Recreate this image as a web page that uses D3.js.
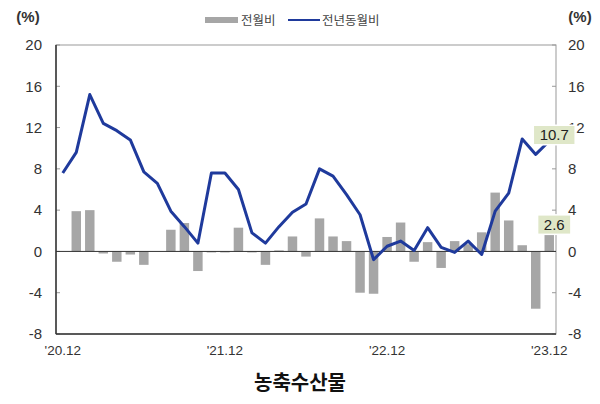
<!DOCTYPE html>
<meta charset="utf-8">
<body style="margin:0;background:#fff">
  <script src="https://d3js.org/d3.v7.min.js"></script>
  <script>

   // months '20.12 .. '23.12
   const months = d3.range(37).map(i => {
     const yr = 20 + Math.floor((11 + i) / 12), m = (11 + i) % 12 + 1;
     return "'" + yr + "." + m;
   });
   const tickLabels = ["'20.12", "'21.12", "'22.12", "'23.12"];
   const tickIdx = [0, 12, 24, 36];

   // 전월비 (bars)
   const mom = [null, 3.9, 4.0, -0.2, -1.0, -0.3, -1.3, 0, 2.1, 2.75, -1.9, -0.1,
                -0.1, 2.3, -0.1, -1.3, 0.1, 1.45, -0.5, 3.2, 1.45, 1.0, -4.0, -4.1,
                1.4, 2.8, -1.0, 0.9, -1.6, 1.0, 0.7, 1.85, 5.7, 3.0, 0.6, -5.55, 2.6];
   // 전년동월비 (line)
   const yoy = [7.6, 9.6, 15.2, 12.4, 11.7, 10.8, 7.7, 6.6, 3.9, 2.4, 0.8, 7.6,
                7.6, 6.0, 1.8, 0.8, 2.4, 3.8, 4.6, 8.0, 7.3, 5.5, 3.55, -0.8,
                0.5, 1.0, 0.1, 2.3, 0.4, -0.1, 1.0, -0.3, 3.9, 5.65, 10.9, 9.4, 10.7];
   const yTicks = [-8, -4, 0, 4, 8, 12, 16, 20];

   const W = 600, H = 404;
   const pl = 56, pr = 556, pt = 45, pb = 334;
   const num = "'Liberation Sans', Arial, sans-serif";
   const kr = "'Noto Sans CJK KR', sans-serif";

   const svg = d3.select("body").append("svg")
       .attr("width", W).attr("height", H);

   const x = d3.scaleBand().domain(months).range([pl, pr]).paddingInner(0.3).paddingOuter(0.15);
   const xc = i => x(months[i]) + x.bandwidth() / 2;
   const y = d3.scaleLinear().domain([-8, 20]).range([pb, pt]);

   // frame
   svg.append("rect").attr("x", pl).attr("y", pt)
      .attr("width", pr - pl).attr("height", pb - pt)
      .attr("fill", "none").attr("stroke", "#999").attr("stroke-width", 1);

   // ticks inward
   const tk = svg.append("g").attr("stroke", "#999");
   tk.selectAll(".tl").data(yTicks).join("line").attr("class", "tl")
     .attr("x1", pl).attr("x2", pl + 4).attr("y1", d => y(d)).attr("y2", d => y(d));
   tk.selectAll(".tr").data(yTicks).join("line").attr("class", "tr")
     .attr("x1", pr).attr("x2", pr - 4).attr("y1", d => y(d)).attr("y2", d => y(d));

   // bars
   svg.append("g").selectAll("rect")
      .data(mom.map((v, i) => ({v, i})).filter(d => d.v !== null))
      .join("rect")
      .attr("x", d => x(months[d.i]))
      .attr("width", x.bandwidth())
      .attr("y", d => y(Math.max(0, d.v)))
      .attr("height", d => Math.abs(y(d.v) - y(0)))
      .attr("fill", "#a6a6a6");

   // zero line
   svg.append("line").attr("x1", pl).attr("x2", pr)
      .attr("y1", y(0)).attr("y2", y(0)).attr("stroke", "#333").attr("stroke-width", 1);

   // left & bottom axis lines darker
   svg.append("line").attr("x1", pl).attr("x2", pl).attr("y1", pt).attr("y2", pb)
      .attr("stroke", "#333").attr("stroke-width", 1.5);
   svg.append("line").attr("x1", pl).attr("x2", pr).attr("y1", pb).attr("y2", pb)
      .attr("stroke", "#333").attr("stroke-width", 1.5);

   // line
   const line = d3.line().x((d, i) => xc(i)).y(d => y(d));
   svg.append("path").datum(yoy).attr("d", line)
      .attr("fill", "none").attr("stroke", "#1f3a9c").attr("stroke-width", 3)
      .attr("stroke-linejoin", "round");

   // y labels
   svg.append("g").selectAll("text").data(yTicks).join("text")
      .attr("x", pl - 14).attr("y", d => y(d)).attr("dy", "0.35em")
      .attr("text-anchor", "end").attr("font-family", num).attr("font-size", 15)
      .attr("fill", "#333").text(d => d);
   svg.append("g").selectAll("text").data(yTicks).join("text")
      .attr("x", pr + 12).attr("y", d => y(d)).attr("dy", "0.35em")
      .attr("text-anchor", "start").attr("font-family", num).attr("font-size", 15)
      .attr("fill", "#333").text(d => d);
   svg.append("text").attr("x", 28).attr("y", 22).attr("text-anchor", "middle")
      .attr("font-family", num).attr("font-size", 15).attr("font-weight", "bold")
      .attr("fill", "#333").text("(%)");
   svg.append("text").attr("x", 580).attr("y", 22).attr("text-anchor", "middle")
      .attr("font-family", num).attr("font-size", 15).attr("font-weight", "bold")
      .attr("fill", "#333").text("(%)");

   // x labels
   svg.append("g").selectAll("text").data(tickIdx).join("text")
      .attr("x", d => xc(d)).attr("y", 355).attr("text-anchor", "middle")
      .attr("font-family", num).attr("font-size", 13.5).attr("fill", "#333")
      .text((d, i) => tickLabels[i]);

   // legend
   const lg = svg.append("g").attr("font-family", kr).attr("font-size", 12.5).attr("fill", "#444");
   lg.append("rect").attr("x", 205).attr("y", 17).attr("width", 33).attr("height", 6).attr("fill", "#a6a6a6");
   lg.append("text").attr("x", 241).attr("y", 24.5).text("전월비");
   lg.append("line").attr("x1", 288).attr("x2", 320).attr("y1", 20).attr("y2", 20)
     .attr("stroke", "#1f3a9c").attr("stroke-width", 2);
   lg.append("text").attr("x", 322).attr("y", 24.5).text("전년동월비");

   // value labels
   const lab = [{t: "10.7", v: yoy[36], dy: -6}, {t: "2.6", v: mom[36], dy: 0}];
   lab.forEach(d => {
     const cx = xc(36) + 5, cy = y(d.v) + d.dy;
     const w = d.t.length * 8.6 + 6;
     svg.append("rect").attr("x", cx - w / 2).attr("y", cy - 9).attr("width", w).attr("height", 18)
        .attr("fill", "#dfe7c8").attr("stroke", "#fff").attr("stroke-width", 3)
        .attr("paint-order", "stroke");
     svg.append("text").attr("x", cx).attr("y", cy).attr("dy", "0.36em").attr("text-anchor", "middle")
        .attr("font-family", num).attr("font-size", 15).attr("fill", "#222").text(d.t);
   });

   // title
   svg.append("text").attr("x", 300).attr("y", 390).attr("text-anchor", "middle")
      .attr("font-family", kr).attr("font-size", 20).attr("font-weight", "bold")
      .attr("fill", "#111").text("농축수산물");

  </script>
</body>
